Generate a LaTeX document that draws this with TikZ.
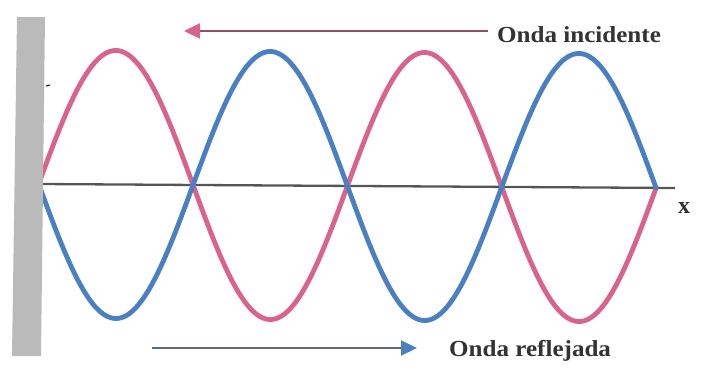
\documentclass[tikz,border=0pt]{standalone}
\usepackage{fontspec}
\setmainfont{Liberation Serif}
\usetikzlibrary{arrows.meta}
\definecolor{wpink}{HTML}{D9638A}
\definecolor{wblue}{HTML}{4A80C2}
\definecolor{wallc}{HTML}{BABABA}
\definecolor{axisc}{HTML}{555555}
\definecolor{incline}{HTML}{8E5068}
\definecolor{refline}{HTML}{5A6890}
\newcommand{\wlabel}[1]{\scalebox{1.09}[1]{#1}}
\begin{document}
\begin{tikzpicture}[x=1pt,y=-1pt,
  wave/.style={line width=4.8pt, line cap=round, line join=round},
  lbl/.style={font=\fontsize{23}{23}\selectfont\bfseries, text=black!80, inner sep=0pt, anchor=west},
  arr/.style={line width=2pt}]
\useasboundingbox (0,0) rectangle (701,372);
% axis
\coordinate (axL) at (40,184);
\coordinate (axR) at (675,188);
\draw[axisc, line width=2.3pt] (axL) -- (axR);
% waves
\draw[wave, wpink, domain=38.7:656.1, samples=300, smooth]
  plot (\x, {184+0.0065*(\x-40) - 134*sin(1.166181*(\x-38.7))});
\draw[wave, wblue, domain=38.7:656.1, samples=300, smooth]
  plot (\x, {184+0.0065*(\x-40) + 134*sin(1.166181*(\x-38.7))});
% wall
\fill[wallc] (17,17) -- (45,17) -- (41,356) -- (12,356) -- cycle;
% tiny mark
\draw[black, line width=1pt] (46,86) -- (50,85);
% labels
\node[lbl] (inc) at (497,35) {\wlabel{Onda incidente}};
\node[lbl] (ref) at (449,351) {\wlabel{Onda reflejada}};
\node[font=\fontsize{24}{24}\selectfont\bfseries, text=black!80, inner sep=0pt] (xl) at (684,208) {x};
% arrows
\coordinate (inA) at (488,31);
\coordinate (inB) at (184,31);
\draw[arr, incline, -{Triangle[length=16pt,width=15pt,color=wpink]}] (inA) -- (inB);
\coordinate (reA) at (152,348);
\coordinate (reB) at (417,348);
\draw[arr, refline, -{Triangle[length=16pt,width=15pt,color=wblue]}] (reA) -- (reB);
\end{tikzpicture}
\end{document}
